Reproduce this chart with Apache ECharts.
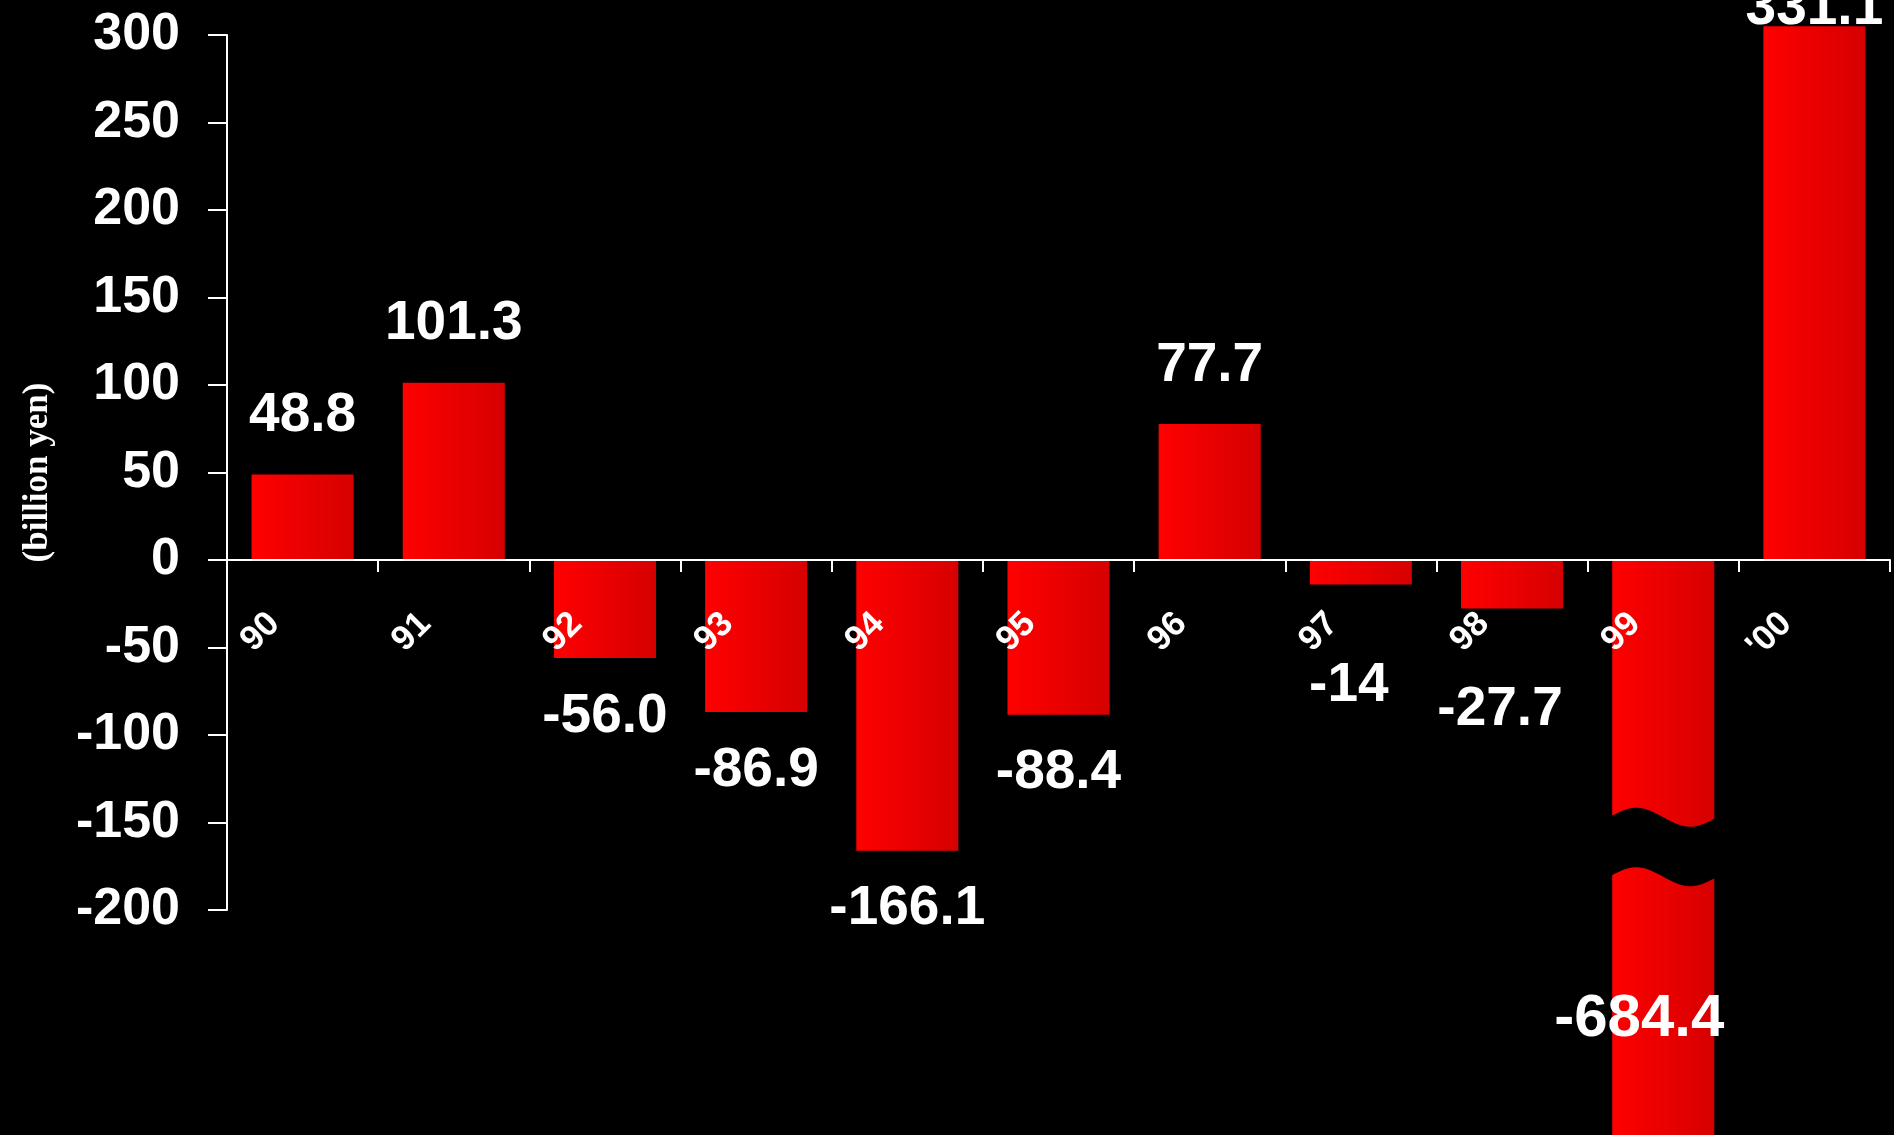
<!DOCTYPE html>
<html><head><meta charset="utf-8">
<script src="https://cdn.jsdelivr.net/npm/echarts@6/dist/echarts.min.js"></script>
<style>html,body{margin:0;padding:0;background:#000;} #c{width:1894px;height:1135px;}</style>
</head><body><div id="c"></div>
<script>
// ---- data ----
const categories = ['90', '91', '92', '93', '94', '95', '96', '97', '98', '99', "'00"];
const values = [48.8, 101.3, -56.0, -86.9, -166.1, -88.4, 77.7, -14, -27.7, -684.4, 331.1];
const valueLabels = ['48.8', '101.3', '-56.0', '-86.9', '-166.1', '-88.4', '77.7', '-14', '-27.7', '-684.4', '331.1'];
const yTicks = [-200, -150, -100, -50, 0, 50, 100, 150, 200, 250, 300];
const yAxisName = '(billion yen)';
// values beyond these limits are drawn cut off (broken bars)
const displayMax = 305;
const displayMin = -335;
// value band in which the over-long bar shows its wavy break
const breakBand = [-147, -181];

// ---- build ----
const FONT = 'Liberation Sans, Arial, sans-serif';
const GRID = { left: 227, right: 4, top: 35, bottom: 225 };
const H = 1135;
const yMin = yTicks[0], yMax = yTicks[yTicks.length - 1];
const gridH = H - GRID.top - GRID.bottom;
const zeroOffset = -gridH * (0 - yMin) / (yMax - yMin);

const barData = values.map((v) => {
  const shown = Math.max(displayMin, Math.min(displayMax, v));
  const cut = shown !== v;
  let label;
  if (v >= 0) label = { position: 'top', distance: cut ? -10 : 31 };
  else if (cut) label = { position: 'insideBottom', distance: 97, fontSize: 60, offset: [-24, 0] };
  else if (v > -40) label = { position: 'bottom', distance: 74, offset: [-12, 0] };
  else label = { position: 'bottom', distance: 31 };
  return { value: shown, label };
});
const breakData = [];
values.forEach((v, i) => { if (v < displayMin) breakData.push([i, breakBand[0], breakBand[1]]); });
const BAR_FRAC = 0.675;

const chart = echarts.init(document.getElementById('c'), null, { renderer: 'canvas' });
chart.setOption({
  backgroundColor: '#000',
  animation: false,
  grid: Object.assign({ outerBoundsMode: 'none', containLabel: false }, GRID),
  xAxis: {
    type: 'category', data: categories, z: 10, position: 'bottom', offset: zeroOffset,
    axisLine: { onZero: false, lineStyle: { color: '#fff', width: 2 } },
    axisTick: { show: true, length: 12, lineStyle: { color: '#fff', width: 2 } },
    axisLabel: {
      color: '#fff', fontSize: 35, fontWeight: 'bold', fontFamily: FONT,
      rotate: 45, margin: 30, padding: [0, 40, 0, 0], interval: 0
    }
  },
  yAxis: {
    type: 'value', min: yMin, max: yMax, interval: yTicks[1] - yTicks[0],
    splitLine: { show: false },
    axisLine: { show: true, lineStyle: { color: '#fff', width: 2 } },
    axisTick: { show: true, length: 19, lineStyle: { color: '#fff', width: 2 } },
    axisLabel: { color: '#fff', fontSize: 52, fontWeight: 'bold', fontFamily: FONT, margin: 47 },
    name: yAxisName, nameLocation: 'middle', nameGap: 172,
    nameTextStyle: { color: '#fff', fontFamily: 'Liberation Serif, Times New Roman, serif', fontWeight: 'bold', fontSize: 35 }
  },
  series: [
    {
      type: 'bar', data: barData, barWidth: (BAR_FRAC * 100) + '%', clip: false, z: 2,
      itemStyle: {
        color: { type: 'linear', x: 0, y: 0, x2: 1, y2: 0,
          colorStops: [{ offset: 0, color: '#ff0000' }, { offset: 1, color: '#d60000' }] }
      },
      label: {
        show: true, color: '#fff', fontSize: 55, fontWeight: 'bold', fontFamily: FONT,
        formatter: (p) => valueLabels[p.dataIndex]
      }
    },
    {
      type: 'custom', data: breakData, z: 5, clip: false,
      encode: { x: 0, y: [1, 2] },
      renderItem: function (params, api) {
        const top = api.coord([api.value(0), api.value(1)]);
        const bot = api.coord([api.value(0), api.value(2)]);
        const w = api.size([1, 0])[0] * BAR_FRAC + 6;
        const x0 = top[0] - w / 2;
        const A = 9.5, N = 30;
        const pts = [];
        for (let k = 0; k <= N; k++) { const t = k / N; pts.push([x0 + w * t, top[1] - A * Math.sin(2 * Math.PI * t)]); }
        for (let k = N; k >= 0; k--) { const t = k / N; pts.push([x0 + w * t, bot[1] - A * Math.sin(2 * Math.PI * t)]); }
        return { type: 'polygon', shape: { points: pts }, style: { fill: '#000' } };
      }
    }
  ]
});
</script>
</body></html>
